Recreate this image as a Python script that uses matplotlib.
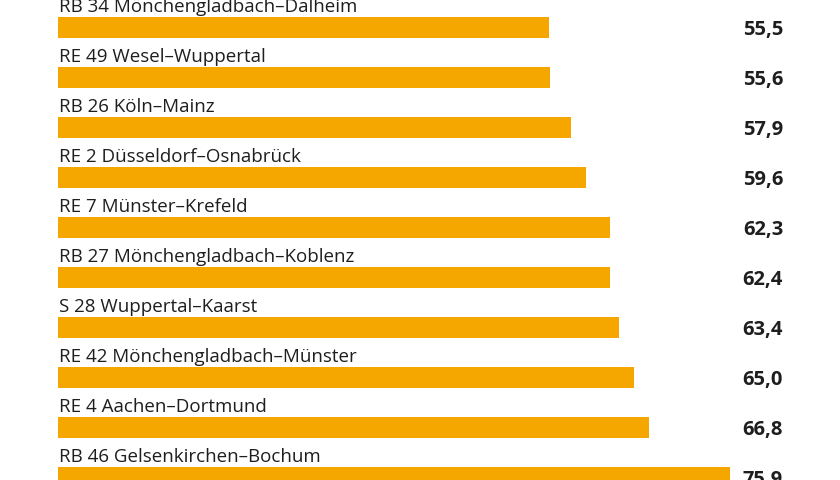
import matplotlib
matplotlib.use("Agg")
import matplotlib.pyplot as plt

routes = [
    "RB 34 Mönchengladbach–Dalheim",
    "RE 49 Wesel–Wuppertal",
    "RB 26 Köln–Mainz",
    "RE 2 Düsseldorf–Osnabrück",
    "RE 7 Münster–Krefeld",
    "RB 27 Mönchengladbach–Koblenz",
    "S 28 Wuppertal–Kaarst",
    "RE 42 Mönchengladbach–Münster",
    "RE 4 Aachen–Dortmund",
    "RB 46 Gelsenkirchen–Bochum",
]
values = [55.5, 55.6, 57.9, 59.6, 62.3, 62.4, 63.4, 65.0, 66.8, 75.9]
value_labels = ["55,5", "55,6", "57,9", "59,6", "62,3", "62,4", "63,4", "65,0", "66,8", "75,9"]

W, H, DPI = 840, 480, 100
px_per_unit = 8.854
x0_px = 58
row_px = 50
first_center_px = 27.5

fig = plt.figure(figsize=(W / DPI, H / DPI), dpi=DPI)
ax = fig.add_axes([0, 0, 1, 1])
ax.set_xlim(-x0_px / px_per_unit, (W - x0_px) / px_per_unit)
ax.set_ylim((H - first_center_px) / row_px, -first_center_px / row_px)
ax.axis("off")

bar_h = 21 / row_px
pos = list(range(len(values)))
ax.barh(pos, values, height=bar_h, color="#F5A700", left=0)

value_x = (783 - x0_px) / px_per_unit
for i, (r, v, lab) in enumerate(zip(routes, values, value_labels)):
    ax.text(0.1, i - bar_h / 2 - 5 / row_px, r, ha="left", va="baseline",
            fontsize=13.5, family="Open Sans", color="#1e1e1e")
    ax.text(value_x, i + 2.5 / row_px, lab, ha="right", va="center", fontsize=14.5,
            family="Open Sans", fontweight="bold", color="#1e1e1e")

fig.savefig("out.png", dpi=DPI)
